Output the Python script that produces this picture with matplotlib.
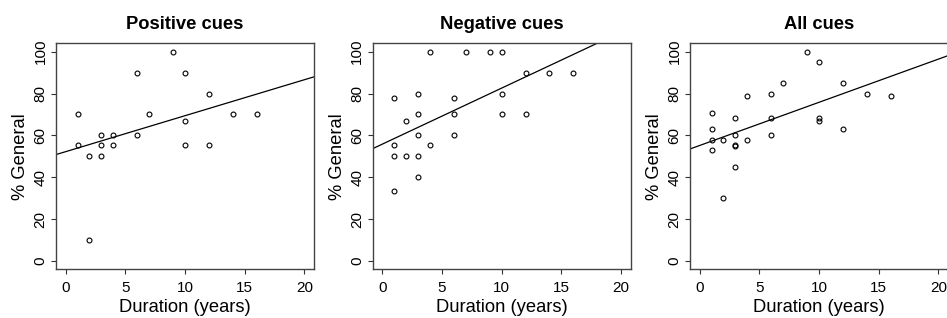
import matplotlib
matplotlib.use("Agg")
import matplotlib.pyplot as plt

plt.rcParams['font.family'] = ['Liberation Sans', 'DejaVu Sans']

# ---- data ----
titles = ["Positive cues", "Negative cues", "All cues"]

pos_duration = [1, 1, 2, 2, 3, 3, 3, 4, 4, 6, 6, 7, 9, 10, 10, 10, 12, 12, 14, 16]
pos_general = [70, 55.6, 50, 10, 60, 55.6, 50, 60, 55.6, 90, 60, 70, 100, 90, 66.7, 55.6, 80, 55.6, 70, 70]

neg_duration = [1, 1, 1, 1, 2, 2, 3, 3, 3, 3, 3, 4, 4, 6, 6, 6, 7, 9, 10, 10, 10, 12, 12, 14, 16]
neg_general = [77.8, 55.6, 50, 33.3, 66.7, 50, 80, 70, 60, 50, 40, 100, 55.6, 77.8, 70, 60,
               100, 100, 100, 80, 70, 90, 70, 90, 90]

all_duration = [1, 1, 1, 1, 2, 2, 3, 3, 3, 3, 3, 4, 4, 6, 6, 6, 7, 9, 10, 10, 10, 12, 12, 14, 16]
all_general = [70.6, 63.2, 57.9, 52.9, 57.9, 30, 68.4, 60, 55.6, 55.0, 45, 78.9, 57.9, 80, 68.4, 60,
               85, 100, 95, 68.4, 66.7, 85, 63.2, 80, 78.9]

# fitted regression lines (intercept, slope)
fit_intercepts = [52.2, 55.8, 55.15]
fit_slopes = [1.72, 2.68, 2.065]

x_ticks = [0, 5, 10, 15, 20]
y_ticks = [0, 20, 40, 60, 80, 100]
x_label = "Duration (years)"
y_label = "% General"

series = [(pos_duration, pos_general), (neg_duration, neg_general), (all_duration, all_general)]

# ---- figure ----
W, H = 947, 318
fig = plt.figure(figsize=(W / 100, H / 100), dpi=100)

lefts_px = [56, 372.7, 690]
width_px = 258
bottom_px = 269.3
top_px = 43.3
ax_h_px = bottom_px - top_px

for i, (xs, ys) in enumerate(series):
    ax = fig.add_axes([lefts_px[i] / W, (H - bottom_px) / H,
                       width_px / W, ax_h_px / H])
    ax.plot(xs, ys, linestyle='none', marker='o', markersize=3.5,
            markerfacecolor='none', markeredgecolor='black', markeredgewidth=0.8)
    ax.axline((0, fit_intercepts[i]), slope=fit_slopes[i], color='black', linewidth=0.9)
    ax.set_xlim(-0.8, 20.8)
    ax.set_ylim(-4, 104)
    ax.set_xticks(x_ticks)
    ax.set_yticks(y_ticks)
    ax.tick_params(axis='both', direction='out', length=3.6, width=0.8,
                   labelsize=11, color='#333333')
    ax.tick_params(axis='x', pad=5)
    ax.tick_params(axis='y', pad=2.5)
    for lbl in ax.get_yticklabels():
        lbl.set_rotation(90)
        lbl.set_va('center')
    for sp in ax.spines.values():
        sp.set_color('#444444')
        sp.set_linewidth(1.0)
    ax.set_xlabel(x_label, fontsize=13.2)
    ax.set_ylabel(y_label, fontsize=13.2)
    ax.xaxis.set_label_coords(0.5, (bottom_px - 308) / ax_h_px)
    ax.xaxis.label.set_va('center')
    ax.yaxis.set_label_coords((20.7 - 56) / width_px, 0.5)
    ax.yaxis.label.set_va('center')
    ax.set_title(titles[i], fontsize=13.2, fontweight='bold', pad=10.5)

fig.savefig("out.png", dpi=100)
